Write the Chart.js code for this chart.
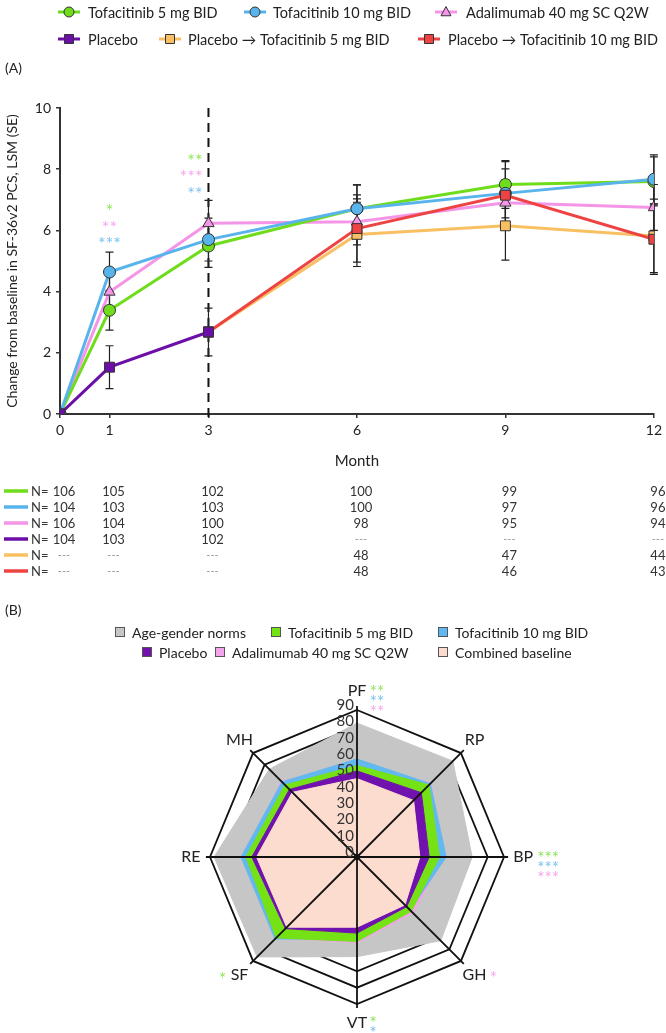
<!DOCTYPE html>
<html>
<head>
<meta charset="utf-8">
<script src="https://cdn.jsdelivr.net/npm/chart.js@4.4.1/dist/chart.umd.min.js"></script>
<style>
  html, body { margin: 0; padding: 0; background: #fff; }
  #wrap { position: relative; width: 666px; height: 1033px; overflow: hidden; }
  #lineChart { position: absolute; left: 0; top: 0; }
  #radarChart { position: absolute; left: 0; top: 600px; }
</style>
</head>
<body>
<div id="wrap">
  <canvas id="lineChart" width="666" height="600"></canvas>
  <canvas id="radarChart" width="666" height="433"></canvas>
</div>
<script>
// ---- panel A data ----
const months = [0, 1, 3, 6, 9, 12];
const tofa5 = [0, 3.39, 5.49, 6.71, 7.5, 7.6];
const tofa10 = [0, 4.64, 5.7, 6.71, 7.21, 7.67];
const ada = [0, 3.99, 6.23, 6.28, 6.9, 6.75];
const placebo = [0, 1.53, 2.68, null, null, null];
const pboTofa5 = [null, null, 2.68, 5.87, 6.15, 5.82];
const pboTofa10 = [null, null, 2.68, 6.06, 7.15, 5.71];

const tofa5SE = [0, 0.65, 0.7, 0.78, 0.78, 0.8];
const tofa10SE = [0, 0.65, 0.7, 0.78, 0.8, 0.8];
const adaSE = [0, 0.65, 0.75, 0.75, 0.75, 0.75];
const placeboSE = [0, 0.7, 0.78, null, null, null];
const pboTofa5SE = [null, null, null, 1.05, 1.12, 1.2];
const pboTofa10SE = [null, null, null, 1.1, 1.1, 1.15];

const nTofa5 = [106, 105, 102, 100, 99, 96];
const nTofa10 = [104, 103, 103, 100, 97, 96];
const nAda = [106, 104, 100, 98, 95, 94];
const nPlacebo = [104, 103, 102, null, null, null];
const nPboTofa5 = [null, null, null, 48, 47, 44];
const nPboTofa10 = [null, null, null, 48, 46, 43];

// ---- panel B data ----
const domains = ['PF', 'RP', 'BP', 'GH', 'VT', 'SF', 'RE', 'MH'];
const norms = [82, 83, 70.5, 72.5, 61, 86.5, 87.5, 76];
const tofa10Radar = [60, 63.5, 54.6, 46, 50, 71, 71, 65];
const adaRadar = [57, 64, 53, 48.5, 52.5, 69.5, 69, 65.5];
const tofa5Radar = [56, 62.4, 50.5, 47, 51.7, 70, 68, 62.4];
const placeboRadar = [52.7, 55.7, 44.2, 43, 46.6, 62, 64.4, 58.5];
const baseline = [48, 49, 38.5, 41.5, 43, 60.8, 61.5, 56];

const FONT = 'Lato, "Open Sans", sans-serif';
const GREEN = '#6fdc1c', BLUE = '#5ab4ec', PINK = '#f495e7', PURPLE = '#6c0fa8', ORANGE = '#f8c062', RED = '#ee4343';
const STAR_GREEN = '#8ee35a', STAR_BLUE = '#7cc2f0', STAR_PINK = '#f5a6ec';

function pts(arr) {
  return months.map((m, i) => ({ x: m, y: arr[i] }));
}

function drawMarker(ctx, style, x, y, r, fill) {
  ctx.save();
  ctx.fillStyle = fill;
  ctx.strokeStyle = '#333';
  ctx.lineWidth = 1;
  ctx.beginPath();
  if (style === 'circle') ctx.arc(x, y, r, 0, Math.PI * 2);
  else if (style === 'rect') ctx.rect(x - r, y - r, r * 2, r * 2);
  else { ctx.moveTo(x, y - r * 1.1); ctx.lineTo(x + r, y + r * 0.75); ctx.lineTo(x - r, y + r * 0.75); ctx.closePath(); }
  ctx.fill();
  ctx.stroke();
  ctx.restore();
}

const errorSets = [
  [tofa5, tofa5SE], [tofa10, tofa10SE], [ada, adaSE],
  [placebo, placeboSE], [pboTofa5, pboTofa5SE], [pboTofa10, pboTofa10SE]
];

const tableRows = [
  [GREEN, nTofa5], [BLUE, nTofa10], [PINK, nAda],
  [PURPLE, nPlacebo], [ORANGE, nPboTofa5], [RED, nPboTofa10]
];

// significance marks, placed in data units
const lineStars = [
  { x: 1, y: 6.79, t: '*', c: STAR_GREEN, a: 'center' },
  { x: 1, y: 6.25, t: '**', c: STAR_PINK, a: 'center' },
  { x: 1, y: 5.71, t: '***', c: STAR_BLUE, a: 'center' },
  { x: 2.88, y: 8.42, t: '**', c: STAR_GREEN, a: 'right' },
  { x: 2.88, y: 7.89, t: '***', c: STAR_PINK, a: 'right' },
  { x: 2.88, y: 7.34, t: '**', c: STAR_BLUE, a: 'right' }
];

const legendA = [
  { t: 'Tofacitinib 5 mg BID', c: GREEN, m: 'circle', x: 69, tx: 88, y: 12 },
  { t: 'Tofacitinib 10 mg BID', c: BLUE, m: 'circle', x: 255, tx: 273, y: 12 },
  { t: 'Adalimumab 40 mg SC Q2W', c: PINK, m: 'tri', x: 446, tx: 466, y: 12 },
  { t: 'Placebo', c: PURPLE, m: 'rect', x: 69, tx: 88, y: 39 },
  { t: 'Placebo \u2192 Tofacitinib 5 mg BID', c: ORANGE, m: 'rect', x: 170, tx: 188, y: 39 },
  { t: 'Placebo \u2192 Tofacitinib 10 mg BID', c: RED, m: 'rect', x: 429, tx: 448, y: 39 }
];

const linePlugin = {
  id: 'panelA',
  beforeDatasetsDraw(chart) {
    const { ctx, scales: { x, y } } = chart;
    ctx.save();
    // dashed line at month 3
    const x3 = x.getPixelForValue(3);
    ctx.strokeStyle = '#111';
    ctx.lineWidth = 2;
    ctx.setLineDash([9, 6]);
    ctx.beginPath();
    ctx.moveTo(x3, y.getPixelForValue(10));
    ctx.lineTo(x3, y.getPixelForValue(0) + 4);
    ctx.stroke();
    ctx.setLineDash([]);
    // error bars
    ctx.strokeStyle = '#222';
    ctx.lineWidth = 1.2;
    errorSets.forEach(([vals, se]) => {
      vals.forEach((v, i) => {
        if (v === null || se[i] === null || !se[i]) return;
        const px = x.getPixelForValue(months[i]);
        const top = y.getPixelForValue(v + se[i]);
        const bot = y.getPixelForValue(v - se[i]);
        ctx.beginPath();
        ctx.moveTo(px, top); ctx.lineTo(px, bot);
        ctx.moveTo(px - 4, top); ctx.lineTo(px + 4, top);
        ctx.moveTo(px - 4, bot); ctx.lineTo(px + 4, bot);
        ctx.stroke();
      });
    });
    ctx.restore();
  },
  afterDraw(chart) {
    const { ctx, scales: { x, y } } = chart;
    ctx.save();
    // stars
    ctx.font = '18px ' + FONT;
    ctx.textBaseline = 'middle';
    lineStars.forEach(s => {
      ctx.fillStyle = s.c;
      ctx.textAlign = s.a;
      ctx.fillText(s.t, x.getPixelForValue(s.x), y.getPixelForValue(s.y) + 5);
    });
    // legend
    ctx.font = '14.5px ' + FONT;
    ctx.textAlign = 'left';
    legendA.forEach(l => {
      ctx.strokeStyle = l.c;
      ctx.lineWidth = 3;
      ctx.beginPath();
      ctx.moveTo(l.x - 11, l.y); ctx.lineTo(l.x + 11, l.y);
      ctx.stroke();
      drawMarker(ctx, l.m, l.x, l.y, l.m === 'rect' ? 4.5 : 5, l.c);
      ctx.fillStyle = '#222';
      ctx.fillText(l.t, l.tx, l.y + 1);
    });
    // panel label
    ctx.font = '14px ' + FONT;
    ctx.fillText('(A)', 5, 68);
    // N table
    tableRows.forEach(([col, ns], r) => {
      const ry = 491 + r * 16;
      ctx.strokeStyle = col;
      ctx.lineWidth = 3.5;
      ctx.beginPath();
      ctx.moveTo(4, ry); ctx.lineTo(28, ry);
      ctx.stroke();
      ctx.fillStyle = '#333';
      ctx.font = '13px ' + FONT;
      ctx.textAlign = 'left';
      ctx.fillText('N=', 31, ry + 1);
      ns.forEach((n, i) => {
        const px = x.getPixelForValue(months[i]) + 4;
        ctx.textAlign = 'center';
        if (n === null) {
          ctx.fillStyle = '#999';
          ctx.font = '11px ' + FONT;
          ctx.fillText('---', px, ry);
        } else {
          ctx.fillStyle = '#333';
          ctx.font = '13px ' + FONT;
          ctx.fillText(String(n), px, ry + 1);
        }
      });
    });
    ctx.restore();
  }
};

function lineSet(label, arr, color, style, radius) {
  return {
    label, data: pts(arr), borderColor: color, backgroundColor: color,
    borderWidth: 3, pointStyle: style, pointRadius: radius,
    pointBorderColor: '#333', pointBorderWidth: 1, pointBackgroundColor: color,
    spanGaps: false, tension: 0
  };
}

new Chart(document.getElementById('lineChart'), {
  type: 'line',
  data: {
    datasets: [
      lineSet('Placebo', placebo, PURPLE, 'rect', 7),
      lineSet('Placebo \u2192 Tofacitinib 10 mg BID', pboTofa10, RED, 'rect', 7),
      lineSet('Placebo \u2192 Tofacitinib 5 mg BID', pboTofa5, ORANGE, 'rect', 7),
      lineSet('Tofacitinib 10 mg BID', tofa10, BLUE, 'circle', 6),
      lineSet('Tofacitinib 5 mg BID', tofa5, GREEN, 'circle', 6),
      lineSet('Adalimumab 40 mg SC Q2W', ada, PINK, 'triangle', 6.5)
    ]
  },
  options: {
    responsive: false,
    animation: false,
    layout: { padding: { top: 108, right: 11, bottom: 0, left: 0 } },
    plugins: { legend: { display: false }, tooltip: { enabled: false } },
    scales: {
      x: {
        type: 'linear', min: 0, max: 12,
        afterBuildTicks: s => { s.ticks = months.map(v => ({ value: v })); },
        afterFit: s => { s.height = 186; },
        grid: { drawOnChartArea: false, drawTicks: true, tickLength: 4, color: '#333', lineWidth: 1.5 },
        border: { color: '#333', width: 2 },
        ticks: { font: { family: FONT, size: 14 }, color: '#222', padding: 4, maxRotation: 0, autoSkip: false },
        title: { display: true, text: 'Month', color: '#222', font: { family: FONT, size: 15 }, padding: { top: 0, bottom: 130 } }
      },
      y: {
        min: 0, max: 10,
        afterFit: s => { s.width = 60; },
        grid: { drawOnChartArea: false, drawTicks: true, tickLength: 4, color: '#333', lineWidth: 1.5 },
        border: { color: '#333', width: 2 },
        ticks: { stepSize: 2, font: { family: FONT, size: 14 }, color: '#222', padding: 5 },
        title: { display: true, text: 'Change from baseline in SF-36v2 PCS, LSM (SE)', color: '#222', font: { family: FONT, size: 14 }, padding: { top: 4, bottom: 0 } }
      }
    }
  },
  plugins: [linePlugin]
});

// ---- panel B ----
const R_GRAY = '#c6c6c6', R_GREEN = '#74e214', R_BLUE = '#62b8f0', R_PINK = '#f3a4ea', R_PURPLE = '#7212ae', R_PEACH = '#fcdccf';

const radarStars = [
  { i: 0, dx: 20, dy: -3, t: '**', c: STAR_GREEN },
  { i: 0, dx: 20, dy: 6.5, t: '**', c: STAR_BLUE },
  { i: 0, dx: 20, dy: 16.5, t: '**', c: STAR_PINK },
  { i: 2, dx: 25, dy: -3, t: '***', c: STAR_GREEN },
  { i: 2, dx: 25, dy: 7, t: '***', c: STAR_BLUE },
  { i: 2, dx: 25, dy: 17, t: '***', c: STAR_PINK },
  { i: 3, dx: 19, dy: -1, t: '*', c: STAR_PINK },
  { i: 4, dx: 16, dy: -5, t: '*', c: STAR_GREEN },
  { i: 4, dx: 16, dy: 5, t: '*', c: STAR_BLUE },
  { i: 5, dx: -17, dy: 0, t: '*', c: STAR_GREEN }
];

const legendB = [
  { t: 'Age-gender norms', c: R_GRAY, x: 120, y: 32 },
  { t: 'Tofacitinib 5 mg BID', c: R_GREEN, x: 276, y: 32 },
  { t: 'Tofacitinib 10 mg BID', c: R_BLUE, x: 443, y: 32 },
  { t: 'Placebo', c: R_PURPLE, x: 147, y: 52 },
  { t: 'Adalimumab 40 mg SC Q2W', c: R_PINK, x: 220, y: 52 },
  { t: 'Combined baseline', c: R_PEACH, x: 443, y: 52 }
];

const radarPlugin = {
  id: 'panelB',
  afterDatasetsDraw(chart) {
    const { ctx } = chart;
    const r = chart.scales.r;
    ctx.save();
    // spokes on top of the fills
    ctx.strokeStyle = '#111';
    ctx.lineWidth = 1.8;
    domains.forEach((d, i) => {
      const p = r.getPointPosition(i, r.getDistanceFromCenterForValue(92.5));
      ctx.beginPath();
      ctx.moveTo(r.xCenter, r.yCenter);
      ctx.lineTo(p.x, p.y);
      ctx.stroke();
    });
    ctx.fillStyle = '#111';
    ctx.beginPath();
    ctx.arc(r.xCenter, r.yCenter, 3, 0, Math.PI * 2);
    ctx.fill();
    // tick labels
    ctx.font = '15px ' + FONT;
    ctx.fillStyle = '#333';
    ctx.textAlign = 'right';
    ctx.textBaseline = 'middle';
    r.ticks.forEach(t => {
      ctx.fillText(String(t.value), r.xCenter - 3, r.yCenter - r.getDistanceFromCenterForValue(t.value) - 5);
    });
    // axis names
    ctx.font = '16px ' + FONT;
    ctx.fillStyle = '#222';
    ctx.textAlign = 'center';
    const lab = domains.map((d, i) => r.getPointPosition(i, r.getDistanceFromCenterForValue(101.7)));
    domains.forEach((d, i) => ctx.fillText(d, lab[i].x, lab[i].y));
    ctx.font = '17px ' + FONT;
    radarStars.forEach(s => {
      ctx.fillStyle = s.c;
      ctx.fillText(s.t, lab[s.i].x + s.dx, lab[s.i].y + s.dy + 5);
    });
    // legend
    ctx.font = '14px ' + FONT;
    ctx.textAlign = 'left';
    legendB.forEach(l => {
      ctx.fillStyle = l.c;
      ctx.fillRect(l.x - 4.5, l.y - 4.5, 9, 9);
      ctx.strokeStyle = '#555';
      ctx.lineWidth = 1;
      ctx.strokeRect(l.x - 4.5, l.y - 4.5, 9, 9);
      ctx.fillStyle = '#222';
      ctx.fillText(l.t, l.x + 12, l.y + 1);
    });
    ctx.fillText('(B)', 5, 10);
    ctx.restore();
  }
};

function radarSet(label, arr, color) {
  return { label, data: arr, backgroundColor: color, borderColor: color, borderWidth: 1, fill: true, pointRadius: 0 };
}

new Chart(document.getElementById('radarChart'), {
  type: 'radar',
  data: {
    labels: domains,
    datasets: [
      radarSet('Combined baseline', baseline, R_PEACH),
      radarSet('Placebo', placeboRadar, R_PURPLE),
      radarSet('Tofacitinib 5 mg BID', tofa5Radar, R_GREEN),
      radarSet('Tofacitinib 10 mg BID', tofa10Radar, R_BLUE),
      radarSet('Adalimumab 40 mg SC Q2W', adaRadar, R_PINK),
      radarSet('Age-gender norms', norms, R_GRAY)
    ]
  },
  options: {
    responsive: false,
    animation: false,
    layout: { padding: { top: 110, bottom: 29, left: 210, right: 161 } },
    plugins: { legend: { display: false }, tooltip: { enabled: false } },
    elements: { line: { tension: 0 } },
    scales: {
      r: {
        min: 0, max: 90,
        ticks: { display: false, stepSize: 10 },
        grid: { color: '#111', lineWidth: 1.8, circular: false },
        angleLines: { display: false },
        pointLabels: { display: false }
      }
    }
  },
  plugins: [radarPlugin]
});
</script>
</body>
</html>
